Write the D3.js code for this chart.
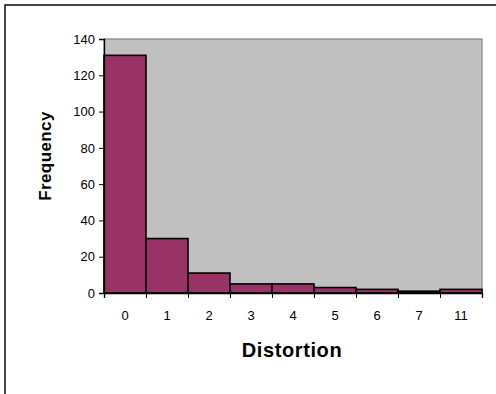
<!DOCTYPE html>
<html>
<head>
<meta charset="utf-8">
<script src="https://cdn.jsdelivr.net/npm/d3@7"></script>
<style>
  html, body { margin: 0; padding: 0; background: #fff; }
  svg { display: block; font-family: "Liberation Sans", Arial, sans-serif; }
  .axis path, .axis line { stroke: #000; }
  .axis text { font-size: 13px; fill: #000; font-family: "Liberation Sans", Arial, sans-serif; }
</style>
</head>
<body>
<svg id="chart" width="496" height="394"></svg>
<script>
const categories = ["0", "1", "2", "3", "4", "5", "6", "7", "11"];
const frequency = [131, 30, 11, 5, 5, 3, 2, 1, 2];
const yTicks = [0, 20, 40, 60, 80, 100, 120, 140];

const svg = d3.select("#chart");
const margin = { top: 39, right: 14, bottom: 101, left: 104 };
const width = 496, height = 394;
const plotW = width - margin.left - margin.right;
const plotH = height - margin.top - margin.bottom;

// outer frame (only top/left visible in the crop)
svg.append("rect")
  .attr("x", 5).attr("y", 5)
  .attr("width", 600).attr("height", 600)
  .attr("fill", "none")
  .attr("stroke", "#1a1a1a")
  .attr("stroke-width", 1.6);

const g = svg.append("g").attr("transform", `translate(${margin.left},${margin.top})`);

const x = d3.scaleBand().domain(categories).range([0, plotW]).padding(0);
const xEdge = d3.scaleLinear().domain([0, categories.length]).range([0, plotW]);
const y = d3.scaleLinear().domain([0, 140]).range([plotH, 0]);

g.append("rect")
  .attr("width", plotW).attr("height", plotH)
  .attr("fill", "#c0c0c0")
  .attr("stroke", "#808080")
  .attr("stroke-width", 1.2);

g.selectAll(".bar")
  .data(frequency)
  .join("rect")
  .attr("class", "bar")
  .attr("x", (d, i) => x(categories[i]))
  .attr("y", d => y(d))
  .attr("width", x.bandwidth())
  .attr("height", d => plotH - y(d))
  .attr("fill", "#993366")
  .attr("stroke", "#000")
  .attr("stroke-width", 1.6);

g.append("g")
  .attr("class", "axis")
  .call(d3.axisLeft(y).tickValues(yTicks).tickSize(5).tickPadding(4))
  .call(a => a.select(".domain").attr("stroke-width", 1.3));

// boundary ticks on x axis
g.append("g")
  .attr("class", "axis")
  .attr("transform", `translate(0,${plotH})`)
  .call(d3.axisBottom(xEdge).tickValues(d3.range(categories.length + 1)).tickSize(5).tickFormat(""))
  .call(a => a.select(".domain").attr("stroke-width", 1.3));

// category labels
g.append("g")
  .attr("class", "axis")
  .attr("transform", `translate(0,${plotH})`)
  .call(d3.axisBottom(x).tickSize(0).tickPadding(18))
  .call(a => a.select(".domain").remove());

svg.append("text")
  .attr("transform", "translate(51,156) rotate(-90)")
  .attr("text-anchor", "middle")
  .style("font-size", "17px")
  .style("font-weight", "bold")
  .style("letter-spacing", "0.4px")
  .text("Frequency");

svg.append("text")
  .attr("x", 292).attr("y", 357)
  .attr("text-anchor", "middle")
  .style("font-size", "20px")
  .style("font-weight", "bold")
  .style("letter-spacing", "0.6px")
  .text("Distortion");
</script>
</body>
</html>
